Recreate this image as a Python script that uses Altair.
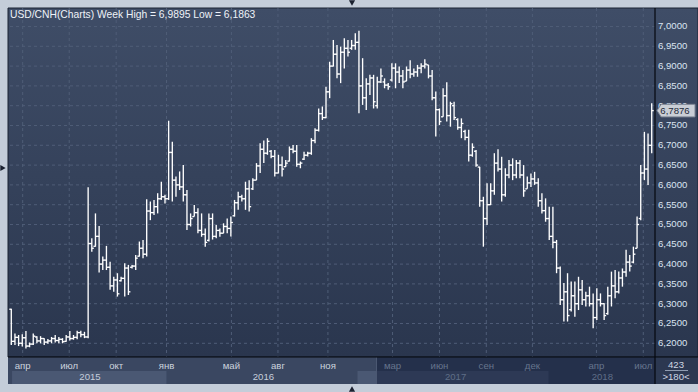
import altair as alt
import pandas as pd

# ---- weekly OHLC, USD/CNH ----
high = [6.287, 6.225, 6.221, 6.223, 6.231, 6.202, 6.225, 6.218, 6.218, 6.213,
        6.211, 6.216, 6.221, 6.216, 6.213, 6.221, 6.231, 6.221, 6.232, 6.232,
        6.229, 6.594, 6.465, 6.528, 6.496, 6.419, 6.446, 6.406, 6.368, 6.377,
        6.368, 6.402, 6.398, 6.398, 6.423, 6.457, 6.461, 6.564, 6.558, 6.562,
        6.579, 6.608, 6.575, 6.762, 6.709, 6.621, 6.634, 6.650, 6.587, 6.528,
        6.549, 6.541, 6.528, 6.490, 6.528, 6.528, 6.499, 6.490, 6.503, 6.515,
        6.520, 6.562, 6.583, 6.575, 6.608, 6.612, 6.617, 6.655, 6.705, 6.712,
        6.718, 6.688, 6.688, 6.676, 6.672, 6.663, 6.697, 6.701, 6.701, 6.659,
        6.684, 6.684, 6.718, 6.743, 6.793, 6.798, 6.848, 6.911, 6.966, 6.953,
        6.949, 6.970, 6.966, 6.966, 6.983, 6.989, 6.920, 6.869, 6.878, 6.878,
        6.873, 6.894, 6.869, 6.857, 6.907, 6.907, 6.899, 6.890, 6.899, 6.915,
        6.894, 6.903, 6.907, 6.917, 6.903, 6.890, 6.836, 6.793, 6.844, 6.859,
        6.810, 6.810, 6.768, 6.768, 6.739, 6.739, 6.705, 6.688, 6.646, 6.570,
        6.604, 6.604, 6.680, 6.690, 6.671, 6.642, 6.663, 6.667, 6.663, 6.663,
        6.650, 6.621, 6.629, 6.633, 6.617, 6.579, 6.566, 6.545, 6.545, 6.461,
        6.394, 6.352, 6.377, 6.356, 6.356, 6.368, 6.360, 6.330, 6.343, 6.326,
        6.339, 6.326, 6.301, 6.343, 6.381, 6.385, 6.381, 6.389, 6.436, 6.423,
        6.444, 6.520, 6.650, 6.734, 6.730, 6.806]
low = [6.196, 6.196, 6.193, 6.192, 6.187, 6.190, 6.196, 6.200, 6.200, 6.196,
       6.199, 6.200, 6.202, 6.200, 6.200, 6.204, 6.207, 6.209, 6.210, 6.215,
       6.213, 6.213, 6.431, 6.444, 6.379, 6.385, 6.385, 6.335, 6.330, 6.318,
       6.356, 6.318, 6.322, 6.389, 6.385, 6.419, 6.415, 6.419, 6.511, 6.524,
       6.528, 6.562, 6.553, 6.562, 6.558, 6.570, 6.587, 6.558, 6.486, 6.495,
       6.520, 6.478, 6.469, 6.444, 6.457, 6.462, 6.465, 6.469, 6.478, 6.478,
       6.470, 6.520, 6.537, 6.558, 6.537, 6.533, 6.587, 6.612, 6.630, 6.655,
       6.676, 6.667, 6.621, 6.629, 6.621, 6.646, 6.659, 6.680, 6.646, 6.642,
       6.663, 6.672, 6.676, 6.705, 6.735, 6.764, 6.768, 6.819, 6.899, 6.869,
       6.857, 6.894, 6.924, 6.941, 6.941, 6.781, 6.802, 6.789, 6.827, 6.793,
       6.793, 6.857, 6.844, 6.840, 6.861, 6.844, 6.857, 6.844, 6.862, 6.869,
       6.873, 6.873, 6.882, 6.894, 6.869, 6.814, 6.722, 6.751, 6.772, 6.760,
       6.747, 6.764, 6.739, 6.718, 6.713, 6.659, 6.671, 6.646, 6.545, 6.444,
       6.499, 6.549, 6.575, 6.634, 6.558, 6.570, 6.617, 6.612, 6.617, 6.617,
       6.570, 6.590, 6.595, 6.600, 6.545, 6.528, 6.507, 6.461, 6.440, 6.377,
       6.297, 6.255, 6.255, 6.280, 6.267, 6.284, 6.297, 6.293, 6.293, 6.238,
       6.259, 6.293, 6.259, 6.272, 6.293, 6.314, 6.326, 6.343, 6.368, 6.381,
       6.402, 6.440, 6.511, 6.612, 6.600, 6.680]
open_ = [6.286, 6.205, 6.215, 6.200, 6.214, 6.193, 6.198, 6.216, 6.206, 6.212,
         6.203, 6.206, 6.212, 6.207, 6.210, 6.205, 6.216, 6.212, 6.215, 6.227,
         6.222, 6.216, 6.452, 6.445, 6.470, 6.400, 6.410, 6.392, 6.345, 6.360,
         6.358, 6.364, 6.390, 6.392, 6.395, 6.420, 6.440, 6.425, 6.534, 6.530,
         6.545, 6.565, 6.570, 6.565, 6.682, 6.612, 6.600, 6.595, 6.575, 6.500,
         6.520, 6.530, 6.485, 6.475, 6.460, 6.515, 6.470, 6.485, 6.478, 6.495,
         6.490, 6.522, 6.555, 6.570, 6.565, 6.590, 6.590, 6.612, 6.648, 6.690,
         6.680, 6.685, 6.672, 6.630, 6.650, 6.646, 6.660, 6.690, 6.685, 6.652,
         6.665, 6.675, 6.680, 6.712, 6.738, 6.780, 6.770, 6.835, 6.900, 6.930,
         6.880, 6.935, 6.945, 6.945, 6.952, 6.960, 6.850, 6.820, 6.855, 6.870,
         6.800, 6.860, 6.860, 6.852, 6.865, 6.895, 6.885, 6.875, 6.862, 6.890,
         6.880, 6.885, 6.895, 6.900, 6.903, 6.875, 6.820, 6.790, 6.772, 6.825,
         6.775, 6.800, 6.765, 6.745, 6.735, 6.720, 6.675, 6.685, 6.645, 6.560,
         6.515, 6.550, 6.585, 6.655, 6.640, 6.575, 6.625, 6.650, 6.625, 6.655,
         6.625, 6.590, 6.605, 6.615, 6.605, 6.560, 6.535, 6.515, 6.470, 6.455,
         6.390, 6.310, 6.330, 6.285, 6.320, 6.300, 6.335, 6.310, 6.320, 6.300,
         6.265, 6.310, 6.300, 6.275, 6.320, 6.345, 6.330, 6.365, 6.380, 6.405,
         6.405, 6.440, 6.515, 6.630, 6.640, 6.700]
close = [6.205, 6.215, 6.200, 6.214, 6.193, 6.198, 6.218, 6.206, 6.212, 6.203,
         6.206, 6.212, 6.207, 6.210, 6.204, 6.216, 6.212, 6.215, 6.227, 6.222,
         6.216, 6.452, 6.440, 6.470, 6.400, 6.410, 6.392, 6.345, 6.360, 6.325,
         6.364, 6.390, 6.330, 6.395, 6.415, 6.440, 6.425, 6.534, 6.530, 6.545,
         6.565, 6.570, 6.565, 6.682, 6.612, 6.600, 6.595, 6.575, 6.500, 6.515,
         6.530, 6.485, 6.475, 6.455, 6.515, 6.470, 6.485, 6.478, 6.495, 6.490,
         6.505, 6.555, 6.570, 6.565, 6.590, 6.545, 6.612, 6.648, 6.690, 6.680,
         6.710, 6.672, 6.630, 6.650, 6.640, 6.655, 6.690, 6.685, 6.652, 6.655,
         6.675, 6.680, 6.712, 6.738, 6.780, 6.770, 6.835, 6.900, 6.930, 6.880,
         6.935, 6.945, 6.935, 6.952, 6.960, 6.850, 6.820, 6.855, 6.870, 6.810,
         6.860, 6.875, 6.852, 6.848, 6.895, 6.885, 6.875, 6.860, 6.890, 6.880,
         6.885, 6.895, 6.900, 6.905, 6.875, 6.820, 6.790, 6.760, 6.825, 6.775,
         6.805, 6.770, 6.745, 6.755, 6.720, 6.675, 6.695, 6.650, 6.560, 6.515,
         6.550, 6.585, 6.655, 6.640, 6.575, 6.625, 6.650, 6.625, 6.655, 6.625,
         6.585, 6.605, 6.615, 6.605, 6.560, 6.535, 6.515, 6.470, 6.455, 6.390,
         6.310, 6.330, 6.270, 6.320, 6.300, 6.335, 6.310, 6.320, 6.300, 6.265,
         6.310, 6.300, 6.270, 6.320, 6.345, 6.330, 6.365, 6.380, 6.405, 6.395,
         6.425, 6.500, 6.630, 6.640, 6.700, 6.7876]
week = list(range(len(high)))

# axis ticks and labels
y_ticks = [6.2, 6.25, 6.3, 6.35, 6.4, 6.45, 6.5, 6.55, 6.6, 6.65, 6.7, 6.75,
           6.8, 6.85, 6.9, 6.95, 7.0]
month_pos = [3.11, 15.83, 28.66, 42.41, 60.15, 72.87, 86.52, 104.18, 117.0,
             129.8, 142.4, 159.9, 172.7]
month_lbl = ['апр', 'июл', 'окт', 'янв', 'май', 'авг', 'ноя', 'мар', 'июн',
             'сен', 'дек', 'апр', 'июл']
years = ['2015', '2016', '2017', '2018']
year_mid = [21.5, 68.9, 121.4, 161.5]
band_start = [0.2, 94.6]
band_end = [42.4, 146.8]
corner_lines = ["423", ">180<"]

title_text = "USD/CNH(Charts) Week High = 6,9895 Low = 6,1863"

W, H = 647, 349
FONT = "Liberation Sans"
FS = 9.6

xs = alt.Scale(domain=[-0.9, 175.9], nice=False, zero=False)
ys = alt.Scale(domain=[6.1654, 7.0467], nice=False, zero=False)

ohlc = pd.DataFrame({"i": week, "o": open_, "h": high, "l": low, "c": close})
one = pd.DataFrame({"a": [0]})

grad = alt.Gradient(gradient="linear",
                    stops=[alt.GradientStop(color="#3f4d67", offset=0),
                           alt.GradientStop(color="#2a364e", offset=1)],
                    x1=0, x2=0, y1=0, y2=1)

bg = alt.Chart(one).mark_rect(fill=grad, stroke="#1a2232", strokeWidth=1).encode(
    x=alt.value(0), x2=alt.value(690), y=alt.value(0), y2=alt.value(349))
strip = alt.Chart(one).mark_rect(fill="#3a4761").encode(
    x=alt.value(0), x2=alt.value(647), y=alt.value(349), y2=alt.value(376))
corner = alt.Chart(one).mark_rect(fill="#2c3851").encode(
    x=alt.value(647), x2=alt.value(690), y=alt.value(349), y2=alt.value(376))
bands = alt.Chart(pd.DataFrame({"s": band_start, "e": band_end})).mark_rect(
    fill="#4a5873").encode(
    x=alt.X("s:Q", scale=xs, axis=None), x2="e:Q",
    y=alt.value(363), y2=alt.value(376))
overlay = alt.Chart(one).mark_rect(fill="#0a1530", opacity=0.45).encode(
    x=alt.value(369), x2=alt.value(647), y=alt.value(349), y2=alt.value(376))
overlay_edge = alt.Chart(one).mark_rule(color="#4b5872", strokeWidth=1).encode(
    x=alt.value(368.5), y=alt.value(349), y2=alt.value(376))

hgrid = alt.Chart(pd.DataFrame({"v": y_ticks})).mark_rule(
    color="#4f5d77", strokeDash=[3, 3], strokeWidth=1).encode(
    y=alt.Y("v:Q", scale=ys, axis=None))
vgrid = alt.Chart(pd.DataFrame({"m": month_pos})).mark_rule(
    color="#4f5d77", strokeDash=[3, 3], strokeWidth=1).encode(
    x=alt.X("m:Q", scale=xs, axis=None))

base = alt.Chart(ohlc)
SW = 1.35
bars = base.mark_rule(color="#ffffff", strokeWidth=SW).encode(
    x=alt.X("i:Q", scale=xs, axis=None),
    y=alt.Y("l:Q", scale=ys, axis=None), y2="h:Q")
opens = base.transform_calculate(xo="datum.i - 0.55").mark_rule(
    color="#ffffff", strokeWidth=SW).encode(
    x=alt.X("xo:Q", scale=xs, axis=None), x2="i:Q",
    y=alt.Y("o:Q", scale=ys, axis=None))
closes = base.transform_calculate(xc="datum.i + 0.55").mark_rule(
    color="#ffffff", strokeWidth=SW).encode(
    x=alt.X("i:Q", scale=xs, axis=None), x2="xc:Q",
    y=alt.Y("c:Q", scale=ys, axis=None))

vline = alt.Chart(one).mark_rule(color="#05080e", strokeWidth=1.2).encode(
    x=alt.value(647), y=alt.value(0), y2=alt.value(376))
hline = alt.Chart(one).mark_rule(color="#05080e", strokeWidth=1.2).encode(
    x=alt.value(0), x2=alt.value(690), y=alt.value(349))

# y tick labels (right side)
ylab = alt.Chart(pd.DataFrame({"v": y_ticks})).transform_calculate(
    s="replace(format(datum.v, '.4f'), '.', ',')").mark_text(
    align="left", baseline="middle", font=FONT, fontSize=FS,
    color="#dbe4f1").encode(x=alt.value(650), y=alt.Y("v:Q", scale=ys, axis=None),
                            text="s:N")

# month labels
mlab = alt.Chart(pd.DataFrame({"m": month_pos, "t": month_lbl})).mark_text(
    align="center", baseline="middle", font=FONT, fontSize=FS).encode(
    x=alt.X("m:Q", scale=xs, axis=None), y=alt.value(357.5), text="t:N",
    color=alt.condition("datum.m > 100", alt.value("#66758d"), alt.value("#cbd3de")))

title = alt.Chart(pd.DataFrame({"t": [title_text]})).mark_text(
    align="left", baseline="middle", font=FONT, fontSize=10.3,
    color="#eef2f8").encode(x=alt.value(2), y=alt.value(7), text="t:N")

last = pd.DataFrame({"p": [close[-1]]})
marker = alt.Chart(last).mark_point(
    shape="M -1 0 L -0.78 -0.33 L 1 -0.33 L 1 0.33 L -0.78 0.33 Z",
    size=1444, filled=True, fill="#c9ced6", stroke="#7c8594", strokeWidth=1,
    opacity=1).encode(x=alt.value(668), y=alt.Y("p:Q", scale=ys, axis=None))
marker_txt = alt.Chart(last).transform_calculate(
    s="replace(format(datum.p, '.4f'), '.', ',')").mark_text(
    align="center", baseline="middle", font=FONT, fontSize=FS,
    color="#1f2a3a").encode(x=alt.value(667), y=alt.Y("p:Q", scale=ys, axis=None),
                            text="s:N")

year_df = pd.DataFrame({"y": years, "m": year_mid})
year_txt = alt.Chart(year_df).mark_text(
    align="center", baseline="middle", font=FONT, fontSize=FS).encode(
    x=alt.X("m:Q", scale=xs, axis=None), y=alt.value(369), text="y:N",
    color=alt.condition("datum.m > 100", alt.value("#5f6e87"), alt.value("#c5cedb")))

corner_txt = alt.Chart(pd.DataFrame({"t": corner_lines, "yy": [357, 369]})).mark_text(
    align="center", baseline="middle", font=FONT, fontSize=FS,
    color="#cfd7e3").encode(x=alt.value(668), y=alt.Y("yy:Q", scale=None), text="t:N")
corner_line = alt.Chart(one).mark_rule(color="#8f9bb0", strokeWidth=1).encode(
    x=alt.value(657), x2=alt.value(680), y=alt.value(362.5))

tri = alt.Chart(pd.DataFrame({"px": [344, 344, -5], "py": [-5, 381, 160],
                              "sh": ["triangle-down", "triangle-up", "triangle-right"]})).mark_point(
    filled=True, size=38, color="#1b2130", opacity=1).encode(
    x=alt.X("px:Q", scale=None), y=alt.Y("py:Q", scale=None),
    shape=alt.Shape("sh:N", scale=None))

chart = alt.layer(
    bg, strip, corner, bands, overlay, overlay_edge, hgrid, vgrid,
    bars, opens, closes, vline, hline, ylab, mlab, title, marker, marker_txt,
    year_txt, corner_txt, corner_line, tri
).properties(
    width=W, height=H,
    background="#c4cdd9",
    padding={"left": 8, "top": 8, "right": 43, "bottom": 35},
    autosize=alt.AutoSizeParams(type="none"),
).configure_view(stroke=None)

chart.save("out.html", embed_options={"renderer": "svg", "actions": False})
